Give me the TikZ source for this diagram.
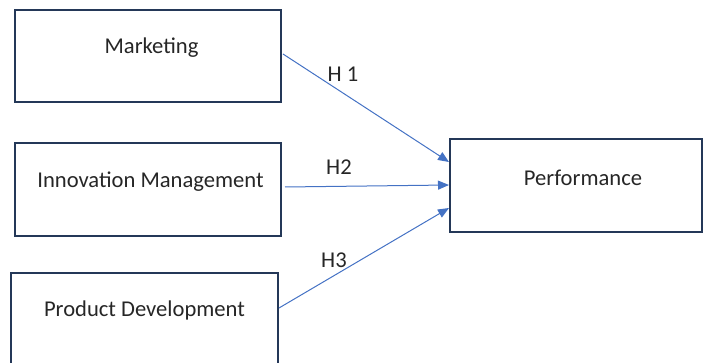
\documentclass[tikz,border=0pt]{standalone}
\usepackage{fontspec}
\setmainfont{Carlito}
\usetikzlibrary{arrows.meta}
\definecolor{boxline}{HTML}{243858}
\definecolor{arrowblue}{HTML}{4472C4}
\definecolor{txtcol}{HTML}{262626}
\tikzset{
  boxnode/.style={draw=boxline, line width=2pt, rectangle, inner sep=0pt},
  txtnode/.style={text=txtcol, font=\fontsize{22.6}{26}\selectfont, inner sep=0pt},
  hyparrow/.style={draw=arrowblue, line width=1pt, -{Triangle[length=11pt,width=9pt]}},
}
\begin{document}
\begin{tikzpicture}[x=1pt,y=-1pt]
\useasboundingbox (0,0) rectangle (703,363);
\clip (0,0) rectangle (703,363);
\node[boxnode, minimum width=266pt, minimum height=92pt] (mk) at (148,56) {};
\node[boxnode, minimum width=266pt, minimum height=93pt] (im) at (148,189.5) {};
\node[boxnode, minimum width=267pt, minimum height=100pt] (pd) at (144.5,323) {};
\node[boxnode, minimum width=252pt, minimum height=93pt] (pf) at (576,185.5) {};
\node[txtnode] (mkt) at (151.5,48) {Marketing};
\node[txtnode] (imt) at (150.5,182) {Innovation Management};
\node[txtnode] (pdt) at (144.5,310) {Product Development};
\node[txtnode] (pft) at (583,178) {Performance};
\coordinate (s1) at (283,54);
\coordinate (s2) at (285,187);
\coordinate (s3) at (279,308);
\coordinate (e1) at (449,162);
\coordinate (e2) at (449,185);
\coordinate (e3) at (449,208);
\draw[hyparrow] (s1) -- (e1);
\draw[hyparrow] (s2) -- (e2);
\draw[hyparrow] (s3) -- (e3);
\node[txtnode] (h1) at (343,74) {H 1};
\node[txtnode] (h2) at (339,167) {H2};
\node[txtnode] (h3) at (334,260) {H3};
\end{tikzpicture}
\end{document}
